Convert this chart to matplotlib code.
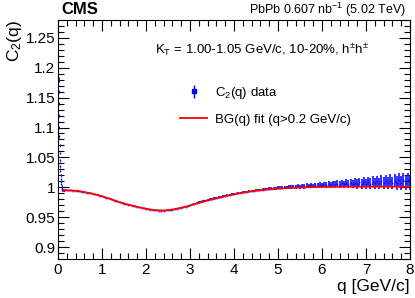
import matplotlib
matplotlib.use("Agg")
import matplotlib.pyplot as plt
from matplotlib.ticker import MultipleLocator, FixedLocator
from matplotlib.lines import Line2D

plt.rcParams['font.family'] = ['Liberation Sans', 'DejaVu Sans']
plt.rcParams['mathtext.fontset'] = 'custom'
plt.rcParams['mathtext.rm'] = 'Liberation Sans'
plt.rcParams['mathtext.it'] = 'Liberation Sans'

# ---- data: low-q region ----
q_low = [0.004, 0.008, 0.012, 0.016, 0.020, 0.024, 0.028, 0.032, 0.036, 0.040,
         0.045, 0.050, 0.055, 0.060, 0.065, 0.070, 0.075, 0.080, 0.085, 0.090,
         0.095, 0.100, 0.110, 0.120, 0.130, 0.140]
c2_low = [1.220, 1.200, 1.180, 1.160, 1.140, 1.120, 1.100, 1.085, 1.070, 1.057,
          1.045, 1.035, 1.027, 1.020, 1.014, 1.009, 1.005, 1.002, 0.999, 0.997,
          0.996, 0.9955, 0.995, 0.995, 0.995, 0.995]
err_low = [0.004, 0.004, 0.004, 0.003, 0.003, 0.003, 0.003, 0.003, 0.002, 0.002,
           0.002, 0.002, 0.002, 0.002, 0.002, 0.002, 0.001, 0.001, 0.001, 0.001,
           0.001, 0.001, 0.001, 0.001, 0.001, 0.001]

# ---- data: q > 0.15 GeV/c ----
q_data = [0.15, 0.20, 0.25, 0.30, 0.35, 0.40, 0.45, 0.50, 0.55, 0.60,
          0.65, 0.70, 0.75, 0.80, 0.85, 0.90, 0.95, 1.00, 1.05, 1.10,
          1.15, 1.20, 1.25, 1.30, 1.35, 1.40, 1.45, 1.50, 1.55, 1.60,
          1.65, 1.70, 1.75, 1.80, 1.85, 1.90, 1.95, 2.00, 2.05, 2.10,
          2.15, 2.20, 2.25, 2.30, 2.35, 2.40, 2.45, 2.50, 2.55, 2.60,
          2.65, 2.70, 2.75, 2.80, 2.85, 2.90, 2.95, 3.00, 3.05, 3.10,
          3.15, 3.20, 3.25, 3.30, 3.35, 3.40, 3.45, 3.50, 3.55, 3.60,
          3.65, 3.70, 3.75, 3.80, 3.85, 3.90, 3.95, 4.00, 4.05, 4.10,
          4.15, 4.20, 4.25, 4.30, 4.35, 4.40, 4.45, 4.50, 4.55, 4.60,
          4.65, 4.70, 4.75, 4.80, 4.85, 4.90, 4.95, 5.00, 5.05, 5.10,
          5.15, 5.20, 5.25, 5.30, 5.35, 5.40, 5.45, 5.50, 5.55, 5.60,
          5.65, 5.70, 5.75, 5.80, 5.85, 5.90, 5.95, 6.00, 6.05, 6.10,
          6.15, 6.20, 6.25, 6.30, 6.35, 6.40, 6.45, 6.50, 6.55, 6.60,
          6.65, 6.70, 6.75, 6.80, 6.85, 6.90, 6.95, 7.00, 7.05, 7.10,
          7.15, 7.20, 7.25, 7.30, 7.35, 7.40, 7.45, 7.50, 7.55, 7.60,
          7.65, 7.70, 7.75, 7.80, 7.85, 7.90, 7.95, 8.00]
c2_data = [0.9950, 0.9950, 0.9948, 0.9947, 0.9945, 0.9942, 0.9938, 0.9932, 0.9926, 0.9920,
           0.9912, 0.9905, 0.9897, 0.9890, 0.9880, 0.9871, 0.9861, 0.9850, 0.9838, 0.9826,
           0.9813, 0.9801, 0.9788, 0.9775, 0.9762, 0.9750, 0.9739, 0.9728, 0.9718, 0.9709,
           0.9699, 0.9690, 0.9681, 0.9672, 0.9663, 0.9655, 0.9647, 0.9640, 0.9633, 0.9627,
           0.9621, 0.9617, 0.9613, 0.9611, 0.9610, 0.9611, 0.9613, 0.9617, 0.9622, 0.9627,
           0.9633, 0.9640, 0.9648, 0.9656, 0.9665, 0.9675, 0.9685, 0.9697, 0.9712, 0.9727,
           0.9740, 0.9752, 0.9763, 0.9773, 0.9783, 0.9792, 0.9801, 0.9810, 0.9819, 0.9828,
           0.9836, 0.9845, 0.9853, 0.9861, 0.9868, 0.9876, 0.9883, 0.9890, 0.9897, 0.9903,
           0.9910, 0.9917, 0.9922, 0.9929, 0.9933, 0.9940, 0.9944, 0.9950, 0.9953, 0.9959,
           0.9962, 0.9968, 0.9970, 0.9976, 0.9978, 0.9983, 0.9985, 0.9990, 0.9993, 0.9996,
           1.0000, 1.0001, 1.0006, 1.0004, 1.0011, 1.0009, 1.0016, 1.0012, 1.0021, 1.0015,
           1.0026, 1.0019, 1.0030, 1.0022, 1.0036, 1.0027, 1.0040, 1.0031, 1.0046, 1.0034,
           1.0050, 1.0038, 1.0055, 1.0041, 1.0060, 1.0044, 1.0066, 1.0047, 1.0070, 1.0050,
           1.0074, 1.0052, 1.0079, 1.0055, 1.0083, 1.0058, 1.0087, 1.0060, 1.0091, 1.0062,
           1.0095, 1.0064, 1.0099, 1.0066, 1.0102, 1.0068, 1.0106, 1.0070, 1.0110, 1.0072,
           1.0113, 1.0074, 1.0117, 1.0076, 1.0120, 1.0078, 1.0123, 1.0080]
err_data = [
           0.0008, 0.0008, 0.0008, 0.0008, 0.0008, 0.0008, 0.0008, 0.0008, 0.0008, 0.0008,
           0.0008, 0.0008, 0.0008, 0.0008, 0.0008, 0.0008, 0.0008, 0.0008, 0.0008, 0.0008,
           0.0008, 0.0008, 0.0008, 0.0008, 0.0008, 0.0008, 0.0008, 0.0008, 0.0008, 0.0008,
           0.0008, 0.0008, 0.0008, 0.0008, 0.0008, 0.0008, 0.0008, 0.0008, 0.0008, 0.0008,
           0.0008, 0.0008, 0.0008, 0.0008, 0.0008, 0.0008, 0.0008, 0.0008, 0.0008, 0.0008,
           0.0008, 0.0008, 0.0008, 0.0008, 0.0008, 0.0009, 0.0009, 0.0009, 0.0010, 0.0010,
           0.0010, 0.0010, 0.0010, 0.0010, 0.0010, 0.0010, 0.0011, 0.0011, 0.0011, 0.0011,
           0.0012, 0.0012, 0.0012, 0.0012, 0.0013, 0.0013, 0.0013, 0.0014, 0.0014, 0.0014,
           0.0015, 0.0015, 0.0016, 0.0016, 0.0017, 0.0017, 0.0018, 0.0018, 0.0019, 0.0019,
           0.0020, 0.0020, 0.0021, 0.0021, 0.0022, 0.0022, 0.0023, 0.0024, 0.0025, 0.0026,
           0.0027, 0.0028, 0.0029, 0.0030, 0.0031, 0.0032, 0.0033, 0.0034, 0.0035, 0.0036,
           0.0037, 0.0038, 0.0039, 0.0040, 0.0041, 0.0042, 0.0043, 0.0044, 0.0046, 0.0048,
           0.0050, 0.0052, 0.0054, 0.0056, 0.0058, 0.0060, 0.0062, 0.0064, 0.0066, 0.0068,
           0.0070, 0.0072, 0.0074, 0.0076, 0.0078, 0.0080, 0.0082, 0.0084, 0.0086, 0.0088,
           0.0090, 0.0092, 0.0094, 0.0096, 0.0098, 0.0100, 0.0102, 0.0104, 0.0106, 0.0108,
           0.0110, 0.0112, 0.0114, 0.0116, 0.0118, 0.0120, 0.0122, 0.0124]

# ---- background fit ----
q_fit = [0.12, 0.2, 0.4, 0.6, 0.8, 1.0, 1.2, 1.4, 1.6, 1.8, 2.0, 2.2, 2.4, 2.6, 2.8,
         3.0, 3.2, 3.4, 3.6, 3.8, 4.0, 4.2, 4.4, 4.6, 4.8, 5.0, 5.2, 5.4, 5.6, 5.8,
         6.0, 6.5, 7.0, 7.5, 8.0]
c2_fit = [0.9952, 0.9950, 0.9942, 0.9920, 0.9890, 0.9850, 0.9801, 0.9750, 0.9709, 0.9672,
          0.9640, 0.9617, 0.9611, 0.9627, 0.9656, 0.9695, 0.9738, 0.9778, 0.9815, 0.9850,
          0.9882, 0.9909, 0.9932, 0.9951, 0.9966, 0.9978, 0.9987, 0.9994, 0.9999, 1.0003,
          1.0006, 1.0009, 1.0010, 1.0010, 1.0010]

x_ticks = [0, 1, 2, 3, 4, 5, 6, 7, 8]
x_ticklabels = ['0', '1', '2', '3', '4', '5', '6', '7', '8']
y_ticks = [0.9, 0.95, 1.0, 1.05, 1.1, 1.15, 1.2, 1.25]
y_ticklabels = ['0.9', '0.95', '1', '1.05', '1.1', '1.15', '1.2', '1.25']

fig = plt.figure(figsize=(4.15, 2.98), dpi=100)
ax = fig.add_axes([0.1398, 0.131, 0.848, 0.802])

blue = '#0000ff'
ax.errorbar(q_low, c2_low, yerr=err_low, fmt='s', ms=1.0, mew=0, color=blue,
            elinewidth=0.6, capsize=0, zorder=2)
ax.errorbar(q_data, c2_data, yerr=err_data, fmt='s', ms=1.2, mew=0, color=blue,
            elinewidth=1.25, capsize=0, alpha=0.9, zorder=2)
ax.plot(q_fit, c2_fit, color='#ff0000', lw=1.3, zorder=3)

ax.set_xlim(0, 8)
ax.set_ylim(0.88, 1.28)
ax.xaxis.set_major_locator(FixedLocator(x_ticks))
ax.set_xticklabels(x_ticklabels)
ax.xaxis.set_minor_locator(MultipleLocator(0.2))
ax.yaxis.set_major_locator(FixedLocator(y_ticks))
ax.set_yticklabels(y_ticklabels)
ax.yaxis.set_minor_locator(MultipleLocator(0.01))
ax.tick_params(which='both', direction='in', top=True, right=True, labelsize=11,
               width=0.8, color='black')
ax.tick_params(which='major', length=8)
ax.tick_params(which='minor', length=4)
ax.tick_params(axis='x', pad=3)
ax.tick_params(axis='y', pad=2)
for s in ax.spines.values():
    s.set_linewidth(0.8)

ax.set_xlabel('q [GeV/c]', fontsize=12.5, loc='right', labelpad=1)
ax.set_ylabel('C$_2$(q)', fontsize=12.5, loc='top', labelpad=1)

fig.text(0.148, 0.968, 'CMS', fontsize=12, fontweight='bold', ha='left', va='center')
fig.text(0.978, 0.966, 'PbPb 0.607 nb$^{-1}$ (5.02 TeV)', fontsize=9, ha='right', va='center')
ax.text(0.277, 0.874, 'K$_{\\mathrm{T}}$ = 1.00-1.05 GeV/c, 10-20%, h$^{\\pm}$h$^{\\pm}$',
        transform=ax.transAxes, fontsize=9.5, ha='left', va='center')

h_data = ax.errorbar([], [], yerr=[], fmt='s', ms=3, color=blue, elinewidth=1, capsize=0)
h_fit = Line2D([], [], color='#ff0000', lw=1.3)
leg = ax.legend([h_data, h_fit], ['C$_2$(q) data', 'BG(q) fit (q>0.2 GeV/c)'],
                loc='upper left', bbox_to_anchor=(0.347, 0.728), frameon=False,
                fontsize=9.5, handlelength=2.05, handletextpad=0.6, labelspacing=0.95,
                borderaxespad=0, borderpad=0)

fig.savefig('out.png', dpi=100)
